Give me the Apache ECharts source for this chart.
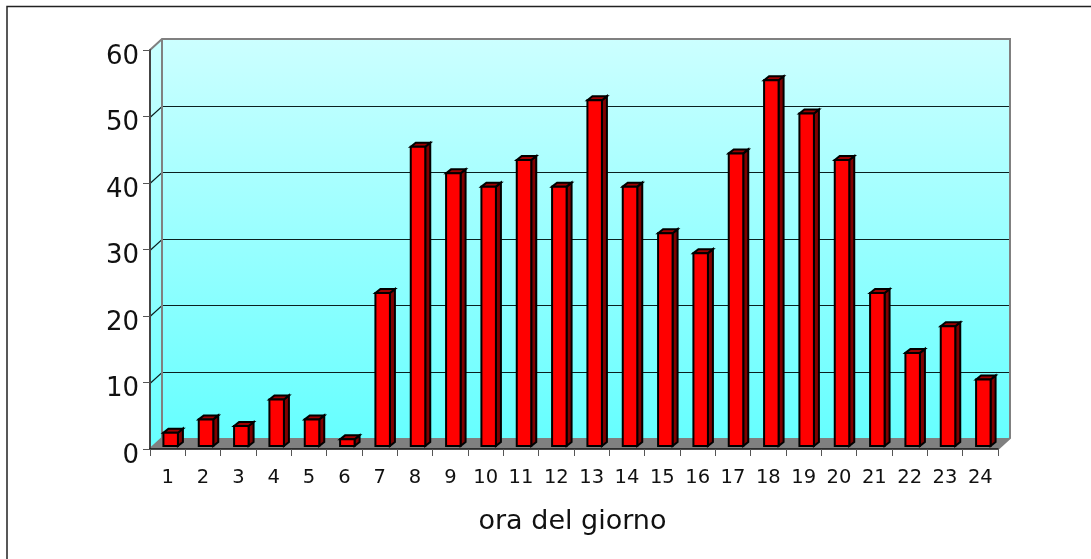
<!DOCTYPE html>
<html><head><meta charset="utf-8">
<style>html,body{margin:0;padding:0;background:#fff}#c{width:1091px;height:559px}</style>
<script src="https://cdn.jsdelivr.net/npm/echarts@6/dist/echarts.min.js"></script>
</head><body><div id="c"></div>
<script>
const categories = ['1','2','3','4','5','6','7','8','9','10','11','12','13','14','15','16','17','18','19','20','21','22','23','24'];
const values = [2,4,3,7,4,1,23,45,41,39,43,39,52,39,32,29,44,55,50,43,23,14,18,10];
const yTicks = [10,20,30,40,50];
const yMin = 0, yMax = 60, yStep = 10;
const xName = 'ora del giorno';
const font = '"DejaVu Sans"';

const DX = 12, DY = -11;      // depth of the chart box
const BX = 3, BY = -3;        // where the bars stand on the floor
const DEPTH_X = 5, DEPTH_Y = -4; // depth of each bar

const chart = echarts.init(document.getElementById('c'), null, {renderer:'canvas'});
const n = categories.length;

function wall(params, api){
  const l0 = api.coord([0, yMin]), l1 = api.coord([0, yMax]), r0 = api.coord([n-1, yMin]);
  const band = api.size([1,0])[0];
  const x0 = l0[0]-band/2, x1 = r0[0]+band/2, yb = l0[1], yt = l1[1];
  const grad = new echarts.graphic.LinearGradient(0,0,0,1,[{offset:0,color:'#CCFFFF'},{offset:1,color:'#66FFFF'}]);
  const children = [
    {type:'polygon',shape:{points:[[x0,yb],[x0,yt],[x0+DX,yt+DY],[x0+DX,yb+DY]]},style:{fill:grad}},
    {type:'rect',shape:{x:x0+DX,y:yt+DY,width:x1-x0,height:yb-yt},style:{fill:grad}},
    {type:'polygon',shape:{points:[[x0,yb],[x0+DX,yb+DY],[x1+DX,yb+DY],[x1,yb]]},style:{fill:'#808080'}}
  ];
  yTicks.forEach(t=>{
    const y = Math.round(api.coord([0,t])[1])+0.5;
    children.push({type:'polyline',shape:{points:[[x0,y],[x0+DX,y+DY],[x1+DX,y+DY]]},style:{fill:null,stroke:'#0A2020',lineWidth:1.2}});
  });
  children.push({type:'polyline',shape:{points:[[x0,yt],[x0+DX,yt+DY],[x1+DX,yt+DY],[x1+DX,yb+DY],[x1,yb]]},style:{fill:null,stroke:'#808080',lineWidth:2}});
  children.push({type:'polyline',shape:{points:[[x0,yb],[x0+DX,yb+DY],[x0+DX,yt+DY]]},style:{fill:null,stroke:'#808080',lineWidth:2}});
  return {type:'group',children};
}

function bar(params, api){
  const p = api.coord([api.value(0), api.value(1)]);
  const b = api.coord([api.value(0), yMin]);
  const w = 14.5;
  const x0 = p[0]-w/2+BX, x1 = x0+w, yt = p[1]+BY, yb = b[1]+BY;
  const s = {stroke:'#000',lineWidth:2,lineJoin:'miter'};
  return {type:'group',children:[
    {type:'polygon',shape:{points:[[x1,yt],[x1+DEPTH_X,yt+DEPTH_Y],[x1+DEPTH_X,yb+DEPTH_Y],[x1,yb]]},style:{fill:'#800000',...s}},
    {type:'polygon',shape:{points:[[x0,yt],[x0+DEPTH_X,yt+DEPTH_Y],[x1+DEPTH_X,yt+DEPTH_Y],[x1,yt]]},style:{fill:'#A00000',...s}},
    {type:'rect',shape:{x:x0,y:yt,width:w,height:yb-yt},style:{fill:'#FF0000',...s}}
  ]};
}

chart.setOption({
  animation:false,
  backgroundColor:'#fff',
  grid:{left:150,right:93,top:50,bottom:110},
  graphic:[{type:'polyline',shape:{points:[[7,559],[7,6.5],[1091,6.5]]},style:{fill:null,stroke:'#222',lineWidth:1.5},z:0}],
  xAxis:{type:'category',data:categories,boundaryGap:true,z:5,
    name:xName,nameLocation:'middle',nameGap:59,
    nameTextStyle:{fontFamily:font,fontSize:27,color:'#111',padding:[0,3,0,0]},
    axisLine:{lineStyle:{color:'#111',width:1.5}},
    axisTick:{show:true,length:7,lineStyle:{color:'#555',width:1},alignWithLabel:false},
    axisLabel:{interval:0,margin:19,fontFamily:font,fontSize:19.5,color:'#111'},
    splitLine:{show:false}},
  yAxis:{type:'value',min:yMin,max:yMax,interval:yStep,z:5,
    axisLine:{show:true,lineStyle:{color:'#444',width:2}},
    axisTick:{show:true,length:7,lineStyle:{color:'#555',width:1}},
    axisLabel:{margin:11,fontFamily:font,fontSize:26,color:'#111',verticalAlign:'top',lineHeight:14},
    splitLine:{show:false}},
  series:[
    {type:'custom',z:1,silent:true,renderItem:wall,data:[[0,0]],encode:{x:0,y:1}},
    {type:'custom',z:3,renderItem:bar,data:values.map((v,i)=>[i,v]),encode:{x:0,y:1}}
  ]
});
</script></body></html>
